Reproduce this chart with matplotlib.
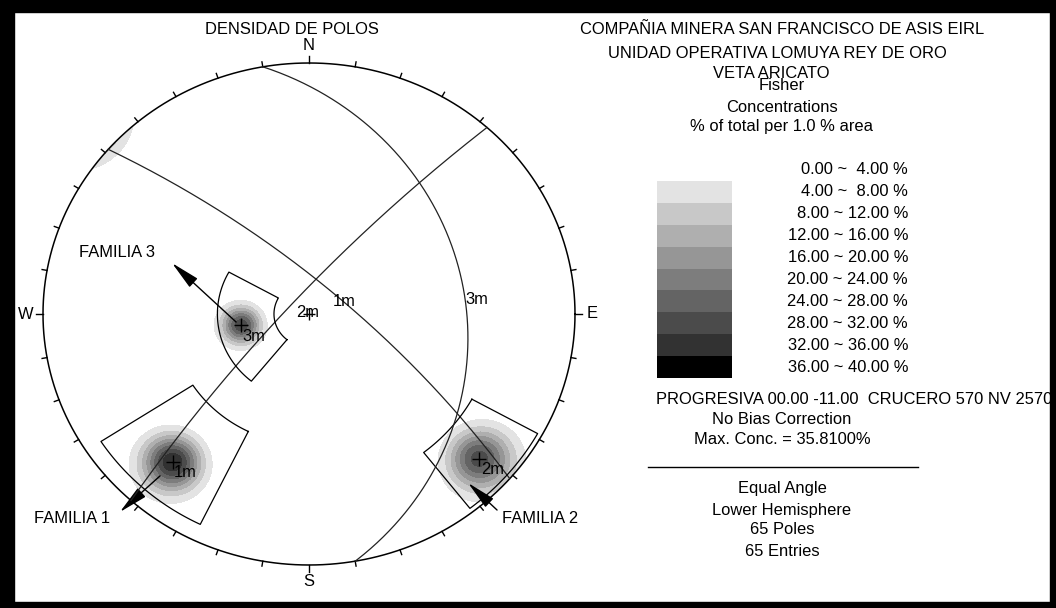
import numpy as np
import matplotlib.pyplot as plt
from matplotlib.patches import Rectangle, Circle, FancyArrowPatch

plt.rcParams['font.family'] = ['Liberation Sans', 'DejaVu Sans']
FS = 11.9

# mean poles of the three joint sets (trend / plunge, degrees)
set_names = ['1m', '2m', '3m']
pole_trend = [221, 132, 260]
pole_plunge = [14, 8.5, 61]
# Fisher density clusters: peak % and concentration
peak_conc = [35.81, 30.0, 31.0]
kappa = [119, 115, 118]
# set windows (trend range, plunge range)
win_trend = [(206, 237), (119, 142), (219, 299)]
win_plunge = [(4, 35), (1, 20), (52, 75)]

# contour classes
levels = [0, 4, 8, 12, 16, 20, 24, 28, 32, 36, 40]
grays = ['#ffffff', '#e3e3e3', '#c8c8c8', '#afafaf', '#969696',
         '#7d7d7d', '#646464', '#4b4b4b', '#323232', '#000000']

# family labels: text, text pos, arrow tail, arrow head (net coords)
fam_text = ['FAMILIA 1', 'FAMILIA 2', 'FAMILIA 3']
fam_xy = [(-0.891, -0.813), (0.868, -0.813), (-0.722, 0.247)]
fam_tail = [(-0.560, -0.645), (0.707, -0.781), (-0.274, -0.032)]
fam_head = [(-0.711, -0.789), (0.598, -0.673), (-0.515, 0.203)]

W, H = 1056, 608
CX, CY, RX, RY = 309, 314, 266, 251
PAD = 1.15

fig = plt.figure(figsize=(W / 100, H / 100), dpi=100)
ax = fig.add_axes([(CX - PAD * RX) / W, (H - CY - PAD * RY) / H,
                   2 * PAD * RX / W, 2 * PAD * RY / H])
ax.set_xlim(-PAD, PAD)
ax.set_ylim(-PAD, PAD)
ax.axis('off')


def proj(trend, plunge):
    # equal angle, lower hemisphere
    t = np.radians(np.asarray(trend, float))
    r = np.tan(np.radians(90 - np.asarray(plunge, float)) / 2)
    return r * np.sin(t), r * np.cos(t)


def pole_vec(trend, plunge):
    t, p = np.radians(trend), np.radians(plunge)
    return np.array([np.cos(p) * np.cos(t), np.cos(p) * np.sin(t), np.sin(p)])


def great_circle(ptr, ppl):
    dd = np.radians(ptr + 180)
    dip = np.radians(90 - ppl)
    s = dd - np.pi / 2
    t = np.linspace(0, np.pi, 361)
    sv = np.array([np.cos(s), np.sin(s), 0.0])
    dv = np.array([np.cos(dip) * np.cos(dd), np.cos(dip) * np.sin(dd), np.sin(dip)])
    v = np.outer(np.cos(t), sv) + np.outer(np.sin(t), dv)
    pl = np.degrees(np.arcsin(np.clip(v[:, 2], -1, 1)))
    tr = np.degrees(np.arctan2(v[:, 1], v[:, 0]))
    return proj(tr, pl)


# density grid
g = np.linspace(-1.05, 1.05, 601)
gx, gy = np.meshgrid(g, g)
gr = np.hypot(gx, gy)
phi = 2 * np.arctan(gr)
az = np.arctan2(gx, gy)
vec = np.stack([np.sin(phi) * np.cos(az), np.sin(phi) * np.sin(az), np.cos(phi)])
dens = np.zeros_like(gx)
for tr, pl, a, k in zip(pole_trend, pole_plunge, peak_conc, kappa):
    c = np.abs(np.tensordot(pole_vec(tr, pl), vec, axes=1))
    dens += a * np.exp(k * (c - 1))

prim = Circle((0, 0), 1, transform=ax.transData)
cs = ax.contourf(gx, gy, dens, levels=levels[1:], colors=grays[1:])
cs.set_clip_path(prim)

# primitive and ticks
th = np.linspace(0, 2 * np.pi, 721)
ax.plot(np.cos(th), np.sin(th), color='black', lw=1.1)
for a in range(0, 360, 10):
    L = 7 if a % 90 == 0 else 5
    s, c = np.sin(np.radians(a)), np.cos(np.radians(a))
    ax.plot([s, s * (1 + L / RX)], [c, c * (1 + L / RY)], color='black', lw=1)
for lab, a in zip('NESW', [0, 90, 180, 270]):
    s, c = np.sin(np.radians(a)), np.cos(np.radians(a))
    ax.text(s * (1 + 17 / RX), c * (1 + 17 / RY), lab, ha='center', va='center', fontsize=FS)

# center mark
ax.plot(0, 0, marker='+', ms=8, mew=1, color='black')

# mean planes, windows, poles
for name, tr, pl, wt, wp in zip(set_names, pole_trend, pole_plunge, win_trend, win_plunge):
    x, y = great_circle(tr, pl)
    ax.plot(x, y, color='#222222', lw=0.9)
    dx, dy = proj(tr + 180, 90 - pl)
    ax.annotate(name, (dx, dy), xytext=(1.5, -2.5), textcoords='offset points',
                ha='left', va='top', fontsize=FS)

    ts = np.linspace(wt[0], wt[1], 60)
    ix, iy = proj(ts, np.full_like(ts, wp[1]))
    ox, oy = proj(ts[::-1], np.full_like(ts, wp[0]))
    ax.plot(np.r_[ix, ox, ix[:1]], np.r_[iy, oy, iy[:1]], color='black', lw=0.9)

    px, py = proj(tr, pl)
    ax.plot(px, py, marker='+', ms=10, mew=1, color='black')
    ax.annotate(name, (px, py), xytext=(1, -2.5), textcoords='offset points',
                ha='left', va='top', fontsize=FS)

for t, xy, tail, head in zip(fam_text, fam_xy, fam_tail, fam_head):
    ax.text(xy[0], xy[1], t, ha='center', va='center', fontsize=FS)
    ax.add_patch(FancyArrowPatch(tail, head, arrowstyle='-|>,head_length=1.8,head_width=0.36',
                                 mutation_scale=10, color='black', lw=1,
                                 shrinkA=0, shrinkB=0))


def ftext(x, y, s, **kw):
    kw.setdefault('ha', 'center')
    fig.text(x / W, 1 - y / H, s, va='center', fontsize=FS, **kw)


ftext(292, 30, 'DENSIDAD DE POLOS')
ftext(782, 29, 'COMPAÑIA MINERA SAN FRANCISCO DE ASIS EIRL')
ftext(777, 53, 'UNIDAD OPERATIVA LOMUYA REY DE ORO')
ftext(771, 73, 'VETA ARICATO')
ftext(782, 86, 'Fisher')
ftext(782, 107, 'Concentrations')
ftext(782, 127, '% of total per 1.0 % area')

# legend
lax = fig.add_axes([657 / W, 1 - 378 / H, 75 / W, 219 / H])
lax.set_xlim(0, 1)
lax.set_ylim(len(grays) - 0.5, -0.5)
lax.axis('off')
rows = np.arange(len(grays))
lax.barh(rows[1:], 1, height=1, color=grays[1:], edgecolor='none')
for i in rows:
    lax.text((908 - 657) / 75, i, f'{levels[i]:.2f} ~ {levels[i + 1]:5.2f} %',
             ha='right', va='center', fontsize=FS, clip_on=False)

ftext(656, 400, 'PROGRESIVA 00.00 -11.00  CRUCERO 570 NV 2570', ha='left')
ftext(782, 419, 'No Bias Correction')
ftext(782, 439, f'Max. Conc. = {max(peak_conc):.4f}%')
fig.add_artist(plt.Line2D([648 / W, 918 / W], [1 - 466.5 / H] * 2, color='black', lw=1))
for y, s in zip([489, 510, 530, 551], ['Equal Angle', 'Lower Hemisphere', '65 Poles', '65 Entries']):
    ftext(782, y, s)

# frame
for x0, y0, w, h in [(0, 0, 14, H), (0, 0, W, 12), (1050, 0, 6, H), (0, 602, W, 6)]:
    fig.add_artist(Rectangle((x0 / W, 1 - (y0 + h) / H), w / W, h / H,
                             transform=fig.transFigure, color='black', zorder=10))

fig.savefig('out.png', dpi=100)
